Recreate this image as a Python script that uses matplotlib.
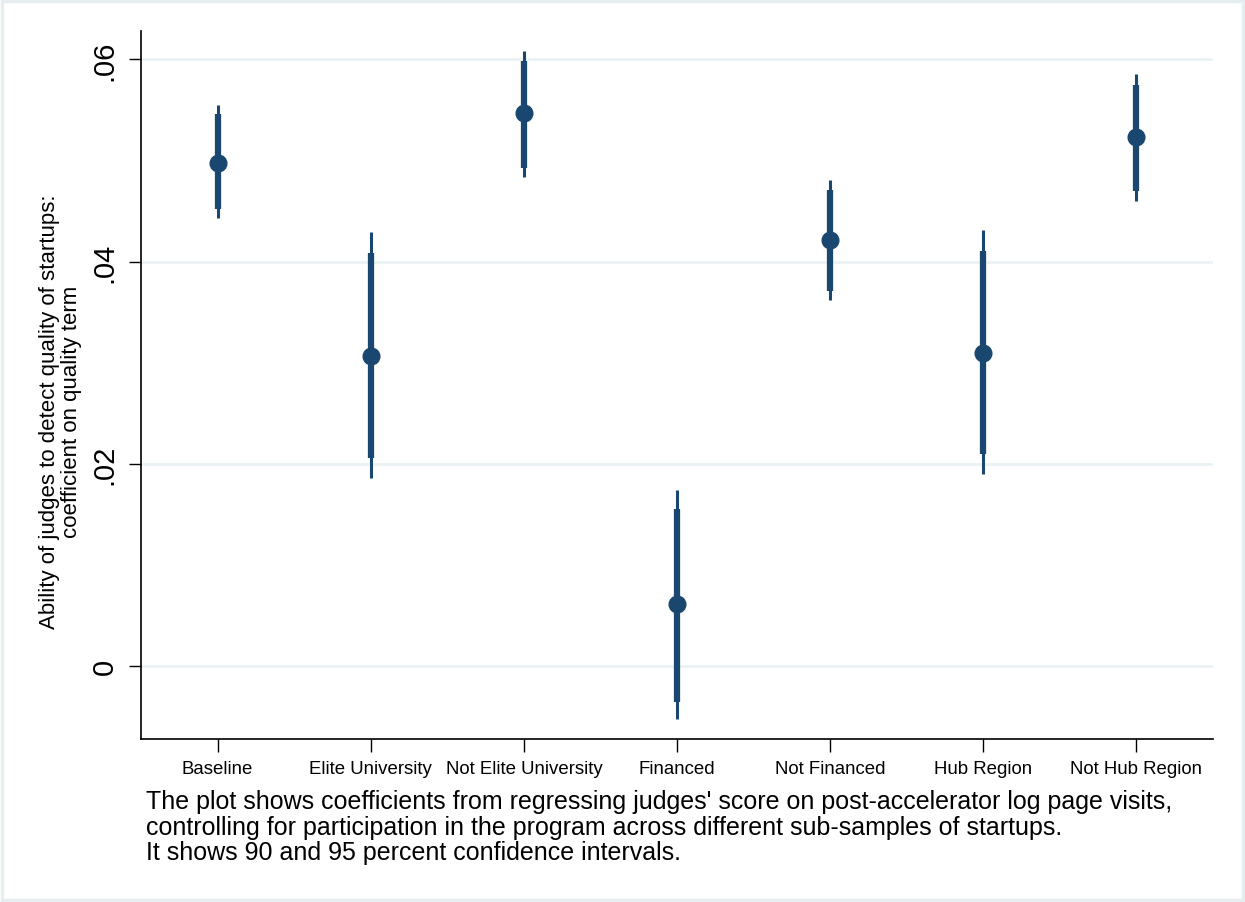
import numpy as np
import matplotlib
matplotlib.use('Agg')
import matplotlib.pyplot as plt
from matplotlib.patches import Rectangle

plt.rcParams['font.family'] = ['Liberation Sans', 'DejaVu Sans']

groups = ['Baseline', 'Elite University', 'Not Elite University', 'Financed',
          'Not Financed', 'Hub Region', 'Not Hub Region']
coef = [0.0498, 0.0307, 0.0547, 0.0061, 0.0421, 0.0310, 0.0523]
ci95_lo = [0.0443, 0.0186, 0.0484, -0.0052, 0.0362, 0.0190, 0.0460]
ci95_hi = [0.0555, 0.0429, 0.0608, 0.0174, 0.0481, 0.0431, 0.0586]
ci90_lo = [0.0452, 0.0206, 0.0493, -0.0035, 0.0371, 0.0210, 0.0470]
ci90_hi = [0.0546, 0.0409, 0.0598, 0.0155, 0.0471, 0.0411, 0.0575]
yticks = [0, 0.02, 0.04, 0.06]
ytick_labels = ['0', '.02', '.04', '.06']

note = ("The plot shows coefficients from regressing judges' score on post-accelerator log page visits,\n"
        "controlling for participation in the program across different sub-samples of startups.\n"
        "It shows 90 and 95 percent confidence intervals.")

navy = '#1a476f'
grid_c = '#eaf2f3'


def main():
    fig = plt.figure(figsize=(12.45, 9.03), dpi=100)
    fig.patches.append(Rectangle((0.002, 0.002), 0.996, 0.996, transform=fig.transFigure,
                                 fill=False, edgecolor='#e6eef2', linewidth=2.5))
    ax = fig.add_axes([0.1133, 0.1805, 0.861, 0.784])

    x = np.arange(1, len(groups) + 1)
    ax.vlines(x, ci95_lo, ci95_hi, color=navy, linewidth=2.2, zorder=3)
    ax.vlines(x, ci90_lo, ci90_hi, color=navy, linewidth=4.5, zorder=4)
    ax.plot(x, coef, 'o', color=navy, markersize=12, zorder=5)

    ax.set_xlim(0.5, 7.5)
    ax.set_ylim(-0.0072, 0.0628)
    ax.set_xticks(x)
    ax.set_xticklabels(groups, fontsize=13.4)
    ax.set_yticks(yticks)
    ax.set_yticklabels(ytick_labels, fontsize=21, rotation=90, va='center')
    ax.tick_params(axis='y', length=9, width=1, pad=7)
    ax.tick_params(axis='x', length=9, width=1, pad=6)
    ax.grid(axis='y', color=grid_c, linewidth=2)
    ax.set_axisbelow(True)
    for s in ['top', 'right']:
        ax.spines[s].set_visible(False)
    for s in ['left', 'bottom']:
        ax.spines[s].set_linewidth(1.2)

    ax.set_ylabel('Ability of judges to detect quality of startups:\ncoefficient on quality term',
                  fontsize=16, linespacing=1.05)
    ax.yaxis.set_label_coords(-0.055, 0.463)

    fig.text(0.117, 0.125, note, fontsize=18, va='top', ha='left', linespacing=1.08)

    fig.savefig('out.png', dpi=100)


if __name__ == '__main__':
    main()
